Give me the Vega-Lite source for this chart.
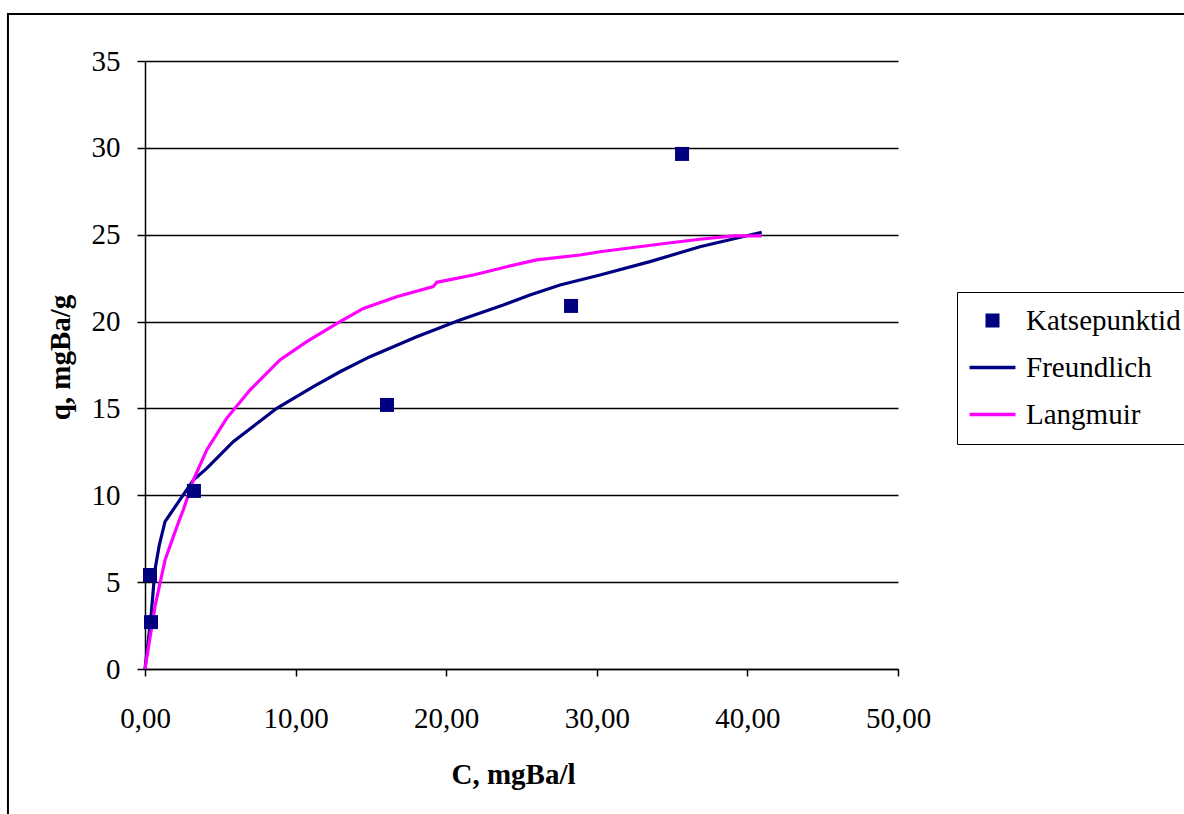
{
  "$schema": "https://vega.github.io/schema/vega-lite/v6.json",
  "autosize": {"type": "none"},
  "width": 753,
  "height": 608,
  "padding": {"left": 145, "top": 61, "right": 286, "bottom": 145},
  "background": "#ffffff",
  "datasets": {
    "points": [
      {"C": 0.33, "q": 5.41, "series": "Katsepunktid"},
      {"C": 0.40, "q": 2.70, "series": "Katsepunktid"},
      {"C": 3.25, "q": 10.25, "series": "Katsepunktid"},
      {"C": 16.07, "q": 15.20, "series": "Katsepunktid"},
      {"C": 28.29, "q": 20.90, "series": "Katsepunktid"},
      {"C": 35.66, "q": 29.65, "series": "Katsepunktid"}
    ],
    "curves": [
      {"C": 0, "q": 0, "series": "Freundlich"},
      {"C": 0.38, "q": 2.82, "series": "Freundlich"},
      {"C": 0.66, "q": 5.7, "series": "Freundlich"},
      {"C": 0.95, "q": 7.14, "series": "Freundlich"},
      {"C": 1.33, "q": 8.48, "series": "Freundlich"},
      {"C": 3.21, "q": 10.88, "series": "Freundlich"},
      {"C": 4.10, "q": 11.55, "series": "Freundlich"},
      {"C": 5.86, "q": 13.09, "series": "Freundlich"},
      {"C": 8.75, "q": 15.01, "series": "Freundlich"},
      {"C": 11.18, "q": 16.25, "series": "Freundlich"},
      {"C": 12.95, "q": 17.11, "series": "Freundlich"},
      {"C": 14.94, "q": 17.98, "series": "Freundlich"},
      {"C": 18.04, "q": 19.13, "series": "Freundlich"},
      {"C": 20.92, "q": 20.09, "series": "Freundlich"},
      {"C": 23.79, "q": 20.95, "series": "Freundlich"},
      {"C": 25.56, "q": 21.53, "series": "Freundlich"},
      {"C": 27.56, "q": 22.11, "series": "Freundlich"},
      {"C": 30.21, "q": 22.68, "series": "Freundlich"},
      {"C": 33.53, "q": 23.45, "series": "Freundlich"},
      {"C": 36.85, "q": 24.31, "series": "Freundlich"},
      {"C": 40.95, "q": 25.14, "series": "Freundlich"},
      {"C": 0, "q": 0, "series": "Langmuir"},
      {"C": 0.66, "q": 3.59, "series": "Langmuir"},
      {"C": 1.33, "q": 6.27, "series": "Langmuir"},
      {"C": 1.88, "q": 7.62, "series": "Langmuir"},
      {"C": 2.28, "q": 8.58, "series": "Langmuir"},
      {"C": 2.54, "q": 9.15, "series": "Langmuir"},
      {"C": 3.21, "q": 10.88, "series": "Langmuir"},
      {"C": 4.10, "q": 12.61, "series": "Langmuir"},
      {"C": 5.42, "q": 14.43, "series": "Langmuir"},
      {"C": 6.97, "q": 16.06, "series": "Langmuir"},
      {"C": 8.96, "q": 17.79, "series": "Langmuir"},
      {"C": 10.74, "q": 18.84, "series": "Langmuir"},
      {"C": 12.95, "q": 19.99, "series": "Langmuir"},
      {"C": 14.5, "q": 20.76, "series": "Langmuir"},
      {"C": 16.71, "q": 21.43, "series": "Langmuir"},
      {"C": 19.14, "q": 22.01, "series": "Langmuir"},
      {"C": 19.37, "q": 22.26, "series": "Langmuir"},
      {"C": 21.8, "q": 22.68, "series": "Langmuir"},
      {"C": 24.02, "q": 23.16, "series": "Langmuir"},
      {"C": 26.0, "q": 23.55, "series": "Langmuir"},
      {"C": 28.88, "q": 23.83, "series": "Langmuir"},
      {"C": 30.21, "q": 24.02, "series": "Langmuir"},
      {"C": 34.64, "q": 24.51, "series": "Langmuir"},
      {"C": 36.85, "q": 24.74, "series": "Langmuir"},
      {"C": 39.07, "q": 24.93, "series": "Langmuir"},
      {"C": 40.95, "q": 24.93, "series": "Langmuir"}
    ]
  },
  "layer": [
    {
      "data": {"values": [{}]},
      "mark": {"type": "rect", "fill": null, "fillOpacity": 0, "stroke": "#000000", "strokeWidth": 2, "clip": false},
      "encoding": {
        "x": {"datum": -9.1, "type": "quantitative", "scale": {"domain": [0, 50], "nice": false, "zero": false},
          "axis": {"title": "C, mgBa/l", "values": [0, 10, 20, 30, 40, 50], "labelExpr": "replace(format(datum.value, '.2f'), '.', ',')", "grid": false, "labelFlush": false, "tickSize": 7, "labelPadding": 28, "titlePadding": 27, "titleX": 368}},
        "x2": {"datum": 72},
        "y": {"datum": 37.7, "type": "quantitative", "scale": {"domain": [0, 35], "nice": false, "zero": false},
          "axis": {"title": "q, mgBa/g", "values": [0, 5, 10, 15, 20, 25, 30, 35], "grid": true, "tickSize": 8, "labelPadding": 17, "titlePadding": 16, "titleY": 296}},
        "y2": {"datum": -10}
      }
    },
    {
      "data": {"name": "curves"},
      "mark": {"type": "line", "strokeWidth": 3.2, "interpolate": "linear"},
      "encoding": {
        "x": {"field": "C", "type": "quantitative", "scale": {"domain": [0, 50], "nice": false, "zero": false},
          "axis": {"title": "C, mgBa/l", "values": [0, 10, 20, 30, 40, 50], "labelExpr": "replace(format(datum.value, '.2f'), '.', ',')", "grid": false, "labelFlush": false, "tickSize": 7, "labelPadding": 28, "titlePadding": 27, "titleX": 368}},
        "y": {"field": "q", "type": "quantitative", "scale": {"domain": [0, 35], "nice": false, "zero": false},
          "axis": {"title": "q, mgBa/g", "values": [0, 5, 10, 15, 20, 25, 30, 35], "grid": true, "tickSize": 8, "labelPadding": 17, "titlePadding": 16, "titleY": 296}},
        "color": {
          "field": "series", "type": "nominal",
          "scale": {"domain": ["Katsepunktid", "Freundlich", "Langmuir"], "range": ["#000080", "#000080", "#FF00FF"]},
          "legend": {
            "title": null, "orient": "none", "legendX": 812, "legendY": 231,
            "strokeColor": "#000000", "fillColor": "#ffffff",
            "padding": 14, "symbolOffset": 7, "labelOffset": 19, "rowPadding": 17,
            "labelFont": "Liberation Serif", "labelFontSize": 29, "labelColor": "#000000",
            "symbolSize": 784, "symbolStrokeWidth": 0, "symbolOpacity": 1
          }
        }
      }
    },
    {
      "data": {"name": "points"},
      "mark": {"type": "point", "filled": true, "size": 784, "opacity": 1, "strokeWidth": 0},
      "encoding": {
        "x": {"field": "C", "type": "quantitative", "scale": {"domain": [0, 50], "nice": false, "zero": false},
          "axis": {"title": "C, mgBa/l", "values": [0, 10, 20, 30, 40, 50], "labelExpr": "replace(format(datum.value, '.2f'), '.', ',')", "grid": false, "labelFlush": false, "tickSize": 7, "labelPadding": 28, "titlePadding": 27, "titleX": 368}},
        "y": {"field": "q", "type": "quantitative", "scale": {"domain": [0, 35], "nice": false, "zero": false},
          "axis": {"title": "q, mgBa/g", "values": [0, 5, 10, 15, 20, 25, 30, 35], "grid": true, "tickSize": 8, "labelPadding": 17, "titlePadding": 16, "titleY": 296}},
        "color": {
          "field": "series", "type": "nominal",
          "scale": {"domain": ["Katsepunktid", "Freundlich", "Langmuir"], "range": ["#000080", "#000080", "#FF00FF"]},
          "legend": {
            "title": null, "orient": "none", "legendX": 812, "legendY": 231,
            "strokeColor": "#000000", "fillColor": "#ffffff",
            "padding": 14, "symbolOffset": 7, "labelOffset": 19, "rowPadding": 17,
            "labelFont": "Liberation Serif", "labelFontSize": 29, "labelColor": "#000000",
            "symbolSize": 784, "symbolStrokeWidth": 0, "symbolOpacity": 1
          }
        },
        "shape": {
          "field": "series", "type": "nominal",
          "scale": {"domain": ["Katsepunktid", "Freundlich", "Langmuir"], "range": ["M-0.5,-0.5H0.5V0.5H-0.5Z", "M-1.64,-0.13H1.64V0.13H-1.64Z", "M-1.64,-0.13H1.64V0.13H-1.64Z"]},
          "legend": {
            "title": null, "orient": "none", "legendX": 812, "legendY": 231,
            "strokeColor": "#000000", "fillColor": "#ffffff",
            "padding": 14, "symbolOffset": 7, "labelOffset": 19, "rowPadding": 17,
            "labelFont": "Liberation Serif", "labelFontSize": 29, "labelColor": "#000000",
            "symbolSize": 784, "symbolStrokeWidth": 0, "symbolOpacity": 1
          }
        }
      }
    }
  ],
  "config": {
    "view": {"stroke": null},
    "font": "Liberation Serif",
    "style": {
      "guide-label": {"font": "Liberation Serif", "fill": "#000000"},
      "guide-title": {"font": "Liberation Serif"}
    },
    "legend": {"labelFont": "Liberation Serif", "labelFontSize": 29, "labelColor": "#000000"},
    "axis": {
      "labelFont": "Liberation Serif", "labelFontSize": 29, "labelColor": "#000000",
      "titleFont": "Liberation Serif", "titleFontSize": 29, "titleFontWeight": "bold", "titleColor": "#000000",
      "domainColor": "#000000", "domainWidth": 1.5,
      "tickColor": "#000000", "tickWidth": 1.5,
      "gridColor": "#000000", "gridWidth": 1.5, "gridOpacity": 1
    }
  }
}
